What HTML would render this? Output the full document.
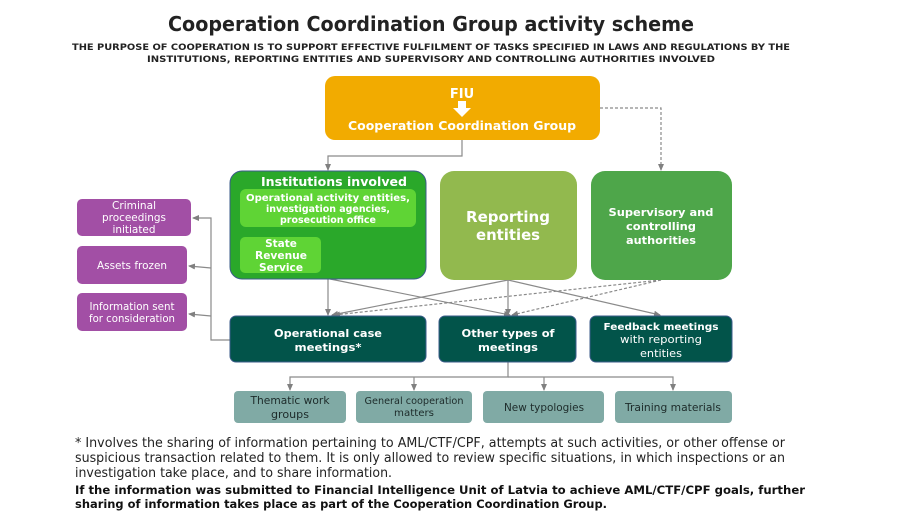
<!DOCTYPE html>
<html><head><meta charset="utf-8"><style>
html,body{margin:0;padding:0;background:#fff;width:920px;height:517px;overflow:hidden}
svg text{font-family:"DejaVu Sans","Liberation Sans",sans-serif}
</style></head><body>
<svg width="920" height="517" viewBox="0 0 920 517" xmlns="http://www.w3.org/2000/svg">
<defs>
<marker id="a" markerWidth="8" markerHeight="8" refX="6" refY="4" orient="auto" markerUnits="userSpaceOnUse"><path d="M0,1 L7,4 L0,7 z" fill="#808080"/></marker>
</defs>
<text x="431" y="31" text-anchor="middle" font-size="20" font-weight="bold" fill="#222" textLength="526" lengthAdjust="spacingAndGlyphs">Cooperation Coordination Group activity scheme</text>
<text x="431" y="50" text-anchor="middle" font-size="9" font-weight="bold" fill="#222" textLength="718" lengthAdjust="spacingAndGlyphs">THE PURPOSE OF COOPERATION IS TO SUPPORT EFFECTIVE FULFILMENT OF TASKS SPECIFIED IN LAWS AND REGULATIONS BY THE</text>
<text x="431" y="62" text-anchor="middle" font-size="9" font-weight="bold" fill="#222" textLength="568" lengthAdjust="spacingAndGlyphs">INSTITUTIONS, REPORTING ENTITIES AND SUPERVISORY AND CONTROLLING AUTHORITIES INVOLVED</text>

<g fill="none" stroke="#8a8a8a" stroke-width="1.2">
<path d="M462,140 V156 H328 V170" marker-end="url(#a)"/>
<path d="M600,108 H661 V170" stroke-dasharray="3,2" marker-end="url(#a)"/>
<path d="M328,279 V315" marker-end="url(#a)"/>
<path d="M330,279 L510,315" marker-end="url(#a)"/>
<path d="M508,280 L332,315" marker-end="url(#a)"/>
<path d="M508,280 V315" marker-end="url(#a)"/>
<path d="M508,280 L660,315" marker-end="url(#a)"/>
<path d="M661,280 L334,315" stroke-dasharray="3,2" marker-end="url(#a)"/>
<path d="M661,280 L512,315" stroke-dasharray="3,2" marker-end="url(#a)"/>
<path d="M230,340 H211 V218 H193" marker-end="url(#a)"/>
<path d="M211,268 L189,266" marker-end="url(#a)"/>
<path d="M211,316 L189,314" marker-end="url(#a)"/>
<path d="M508,362 V377 H290 V390" marker-end="url(#a)"/>
<path d="M414,377 V390" marker-end="url(#a)"/>
<path d="M544,377 V390" marker-end="url(#a)"/>
<path d="M508,377 H673 V390" marker-end="url(#a)"/>
</g>

<rect x="325" y="76" width="275" height="64" rx="10" fill="#f2ab00"/>
<text x="462" y="98" text-anchor="middle" font-size="13" font-weight="bold" fill="#fff">FIU</text>
<path d="M458,101 h8 v7 h5 l-9,9 l-9,-9 h5 z" fill="#fff"/>
<text x="462" y="130" text-anchor="middle" font-size="12" font-weight="bold" fill="#fff" textLength="228" lengthAdjust="spacingAndGlyphs">Cooperation Coordination Group</text>

<rect x="230" y="171" width="196" height="108" rx="12" fill="#2aa82a" stroke="#3b5b8a" stroke-width="1"/>
<text x="334" y="186" text-anchor="middle" font-size="12" font-weight="bold" fill="#fff" textLength="146" lengthAdjust="spacingAndGlyphs">Institutions involved</text>
<rect x="240" y="189" width="176" height="38" rx="6" fill="#5fd435"/>
<text x="328" y="201" text-anchor="middle" font-size="9.5" font-weight="bold" fill="#fff" textLength="164" lengthAdjust="spacingAndGlyphs">Operational activity entities,</text>
<text x="328" y="212" text-anchor="middle" font-size="9.5" font-weight="bold" fill="#fff" textLength="124" lengthAdjust="spacingAndGlyphs">investigation agencies,</text>
<text x="328" y="223" text-anchor="middle" font-size="9.5" font-weight="bold" fill="#fff" textLength="96" lengthAdjust="spacingAndGlyphs">prosecution office</text>
<rect x="240" y="237" width="81" height="36" rx="5" fill="#5fd435"/>
<text x="281" y="247" text-anchor="middle" font-size="10.5" font-weight="bold" fill="#fff">State</text>
<text x="281" y="259" text-anchor="middle" font-size="10.5" font-weight="bold" fill="#fff" textLength="52" lengthAdjust="spacingAndGlyphs">Revenue</text>
<text x="281" y="271" text-anchor="middle" font-size="10.5" font-weight="bold" fill="#fff" textLength="44" lengthAdjust="spacingAndGlyphs">Service</text>

<rect x="440" y="171" width="137" height="109" rx="14" fill="#92b94e"/>
<text x="508" y="222" text-anchor="middle" font-size="15" font-weight="bold" fill="#fff" textLength="84" lengthAdjust="spacingAndGlyphs">Reporting</text>
<text x="508" y="240" text-anchor="middle" font-size="15" font-weight="bold" fill="#fff" textLength="64" lengthAdjust="spacingAndGlyphs">entities</text>

<rect x="591" y="171" width="141" height="109" rx="14" fill="#4ea64a"/>
<text x="661" y="216" text-anchor="middle" font-size="11" font-weight="bold" fill="#fff" textLength="105" lengthAdjust="spacingAndGlyphs">Supervisory and</text>
<text x="661" y="230" text-anchor="middle" font-size="11" font-weight="bold" fill="#fff" textLength="70" lengthAdjust="spacingAndGlyphs">controlling</text>
<text x="661" y="244" text-anchor="middle" font-size="11" font-weight="bold" fill="#fff" textLength="70" lengthAdjust="spacingAndGlyphs">authorities</text>

<rect x="230" y="316" width="196" height="46" rx="6" fill="#02544a" stroke="#3b5b8a"/>
<text x="328" y="337" text-anchor="middle" font-size="11" font-weight="bold" fill="#fff" textLength="108" lengthAdjust="spacingAndGlyphs">Operational case</text>
<text x="328" y="351" text-anchor="middle" font-size="11" font-weight="bold" fill="#fff" textLength="67" lengthAdjust="spacingAndGlyphs">meetings*</text>
<rect x="439" y="316" width="137" height="46" rx="6" fill="#02544a" stroke="#3b5b8a"/>
<text x="508" y="337" text-anchor="middle" font-size="11" font-weight="bold" fill="#fff" textLength="93" lengthAdjust="spacingAndGlyphs">Other types of</text>
<text x="508" y="351" text-anchor="middle" font-size="11" font-weight="bold" fill="#fff" textLength="60" lengthAdjust="spacingAndGlyphs">meetings</text>
<rect x="590" y="316" width="142" height="46" rx="6" fill="#02544a" stroke="#3b5b8a"/>
<text x="661" y="330" text-anchor="middle" font-size="10" font-weight="bold" fill="#fff" textLength="115" lengthAdjust="spacingAndGlyphs">Feedback meetings</text>
<text x="661" y="343" text-anchor="middle" font-size="10.5" fill="#fff" textLength="82" lengthAdjust="spacingAndGlyphs">with reporting</text>
<text x="661" y="357" text-anchor="middle" font-size="10.5" fill="#fff" textLength="42" lengthAdjust="spacingAndGlyphs">entities</text>

<rect x="77" y="199" width="114" height="37" rx="5" fill="#a24fa5"/>
<text x="134" y="209" text-anchor="middle" font-size="10.5" fill="#fff" textLength="44" lengthAdjust="spacingAndGlyphs">Criminal</text>
<text x="134" y="221" text-anchor="middle" font-size="10.5" fill="#fff" textLength="64" lengthAdjust="spacingAndGlyphs">proceedings</text>
<text x="134" y="233" text-anchor="middle" font-size="10.5" fill="#fff" textLength="43" lengthAdjust="spacingAndGlyphs">initiated</text>
<rect x="77" y="246" width="110" height="38" rx="5" fill="#a24fa5"/>
<text x="132" y="269" text-anchor="middle" font-size="10.5" fill="#fff" textLength="70" lengthAdjust="spacingAndGlyphs">Assets frozen</text>
<rect x="77" y="293" width="110" height="38" rx="5" fill="#a24fa5"/>
<text x="132" y="310" text-anchor="middle" font-size="10.5" fill="#fff" textLength="85" lengthAdjust="spacingAndGlyphs">Information sent</text>
<text x="132" y="322" text-anchor="middle" font-size="10.5" fill="#fff" textLength="86" lengthAdjust="spacingAndGlyphs">for consideration</text>

<rect x="234" y="391" width="112" height="32" rx="4" fill="#80aaa5"/>
<text x="290" y="404" text-anchor="middle" font-size="10.5" fill="#1d2b2a" textLength="79" lengthAdjust="spacingAndGlyphs">Thematic work</text>
<text x="290" y="418" text-anchor="middle" font-size="10.5" fill="#1d2b2a" textLength="38" lengthAdjust="spacingAndGlyphs">groups</text>
<rect x="356" y="391" width="116" height="32" rx="4" fill="#80aaa5"/>
<text x="414" y="404" text-anchor="middle" font-size="9.5" fill="#1d2b2a" textLength="99" lengthAdjust="spacingAndGlyphs">General cooperation</text>
<text x="414" y="416" text-anchor="middle" font-size="9.5" fill="#1d2b2a" textLength="40" lengthAdjust="spacingAndGlyphs">matters</text>
<rect x="483" y="391" width="121" height="32" rx="4" fill="#80aaa5"/>
<text x="544" y="411" text-anchor="middle" font-size="10.5" fill="#1d2b2a" textLength="80" lengthAdjust="spacingAndGlyphs">New typologies</text>
<rect x="615" y="391" width="117" height="32" rx="4" fill="#80aaa5"/>
<text x="673" y="411" text-anchor="middle" font-size="10.5" fill="#1d2b2a" textLength="96" lengthAdjust="spacingAndGlyphs">Training materials</text>

<g font-size="13" fill="#222">
<text x="75" y="447" textLength="710" lengthAdjust="spacingAndGlyphs">* Involves the sharing of information pertaining to AML/CTF/CPF, attempts at such activities, or other offense or</text>
<text x="75" y="462" textLength="710" lengthAdjust="spacingAndGlyphs">suspicious transaction related to them. It is only allowed to review specific situations, in which inspections or an</text>
<text x="75" y="477" textLength="317" lengthAdjust="spacingAndGlyphs">investigation take place, and to share information.</text>
</g>
<g font-size="11.5" font-weight="bold" fill="#111">
<text x="75" y="494" textLength="730" lengthAdjust="spacingAndGlyphs">If the information was submitted to Financial Intelligence Unit of Latvia to achieve AML/CTF/CPF goals, further</text>
<text x="75" y="508" textLength="532" lengthAdjust="spacingAndGlyphs">sharing of information takes place as part of the Cooperation Coordination Group.</text>
</g>
</svg>
</body></html>
